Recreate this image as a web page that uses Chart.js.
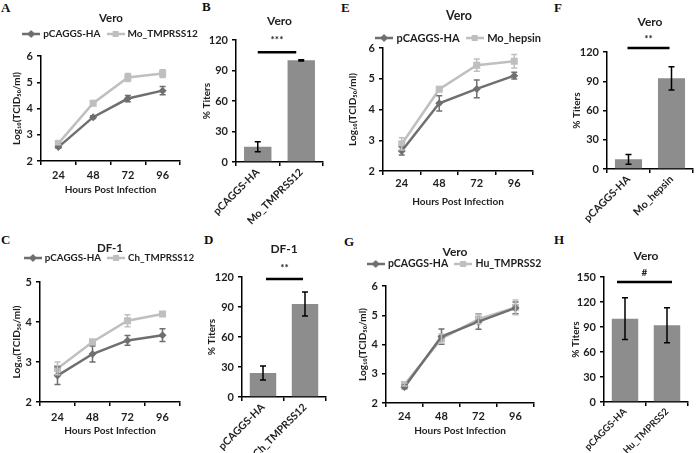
<!DOCTYPE html>
<html><head><meta charset="utf-8">
<script src="https://cdn.jsdelivr.net/npm/chart.js@4/dist/chart.umd.min.js"></script>
<style>
html,body{margin:0;padding:0;background:#fff;width:696px;height:453px;overflow:hidden;position:relative}
canvas{position:absolute}
.lt{position:absolute;font-family:'Liberation Serif','Times New Roman',serif;font-weight:bold;font-size:13px;line-height:1;color:#111}
</style></head><body>
<div class="lt" style="left:1px;top:1px">A</div>
<div class="lt" style="left:202px;top:0px">B</div>
<div class="lt" style="left:341px;top:1px">E</div>
<div class="lt" style="left:554px;top:1px">F</div>
<div class="lt" style="left:1px;top:233px">C</div>
<div class="lt" style="left:204px;top:233px">D</div>
<div class="lt" style="left:344px;top:235px">G</div>
<div class="lt" style="left:554px;top:233px">H</div>
<script>
// ---------- data ----------
const hours = ['24', '48', '72', '96'];
const A_pc = [2.53, 3.67, 4.38, 4.68];
const A_pcErr = [0.04, 0.05, 0.12, 0.16];
const A_mo = [2.67, 4.2, 5.18, 5.33];
const A_moErr = [0.05, 0.04, 0.15, 0.15];
const C_pc = [2.66, 3.2, 3.54, 3.67];
const C_pcErr = [0.22, 0.2, 0.12, 0.16];
const C_ch = [2.84, 3.5, 4.03, 4.2];
const C_chErr = [0.16, 0.07, 0.15, 0.03];
const E_pc = [2.65, 4.2, 4.67, 5.1];
const E_pcErr = [0.13, 0.25, 0.29, 0.11];
const E_mo = [2.88, 4.66, 5.44, 5.57];
const E_moErr = [0.2, 0.03, 0.2, 0.22];
const G_pc = [2.55, 4.27, 4.78, 5.25];
const G_pcErr = [0.06, 0.26, 0.26, 0.2];
const G_hu = [2.63, 4.2, 4.87, 5.27];
const G_huErr = [0.05, 0.16, 0.16, 0.25];
const B_labels = ['pCAGGS-HA', 'Mo_TMPRSS12'];
const B_vals = [15, 100];
const B_err = [5, 0.6];
const D_labels = ['pCAGGS-HA', 'Ch_TMPRSS12'];
const D_vals = [24, 93];
const D_err = [7, 12];
const F_labels = ['pCAGGS-HA', 'Mo_hepsin'];
const F_vals = [10, 93];
const F_err = [5, 12];
const H_labels = ['pCAGGS-HA', 'Hu_TMPRSS2'];
const H_vals = [100, 92];
const H_err = [25, 21];

// ---------- style ----------
const FONT = "Lato, sans-serif";
const TXT = '#1e1e1e';
const DARK = '#6f6f6f', LIGHT = '#bfbfbf', BAR = '#8d8d8d';

const errorBars = {
  id: 'errorBars',
  afterDatasetsDraw(chart) {
    const ctx = chart.ctx, ys = chart.scales.y;
    chart.data.datasets.forEach((ds, i) => {
      if (!ds.errors) return;
      const meta = chart.getDatasetMeta(i);
      ctx.save();
      ctx.strokeStyle = ds.errorColor; ctx.lineWidth = ds.errorWidth || 1.5;
      meta.data.forEach((el, j) => {
        const e = ds.errors[j]; if (!e) return;
        const v = ds.data[j], x = el.x;
        const y1 = ys.getPixelForValue(v + e), y2 = ys.getPixelForValue(v - e);
        const cw = ds.capWidth || 3;
        ctx.beginPath();
        ctx.moveTo(x, y1); ctx.lineTo(x, y2);
        ctx.moveTo(x - cw, y1); ctx.lineTo(x + cw, y1);
        ctx.moveTo(x - cw, y2); ctx.lineTo(x + cw, y2);
        ctx.stroke();
      });
      ctx.restore();
    });
  }
};
const sigPlugin = {
  id: 'sig',
  afterDraw(chart, args, o) {
    if (!o || !o.text) return;
    const xs = chart.scales.x, ys = chart.scales.y, ctx = chart.ctx;
    const x1 = xs.getPixelForValue(0) + (o.dx1 || 0), x2 = xs.getPixelForValue(1) + (o.dx2 || 0);
    const y = ys.getPixelForValue(o.y);
    ctx.save();
    ctx.strokeStyle = '#000'; ctx.lineWidth = 2.5;
    ctx.beginPath(); ctx.moveTo(x1, y); ctx.lineTo(x2, y); ctx.stroke();
    ctx.fillStyle = TXT; ctx.font = 'bold 10px ' + FONT; ctx.textAlign = 'center'; ctx.textBaseline = 'middle';
    ctx.fillText(o.text, (x1 + x2) / 2, ys.getPixelForValue(o.ty));
    ctx.restore();
  }
};

function mk(r) {
  const c = document.createElement('canvas');
  c.width = r.w; c.height = r.h; c.style.left = r.l + 'px'; c.style.top = r.t + 'px';
  document.body.appendChild(c); return c;
}
function legendIcon(color, style) {
  const c = document.createElement('canvas'); c.width = 18; c.height = 10;
  const g = c.getContext('2d');
  g.strokeStyle = color; g.lineWidth = 2.5;
  g.beginPath(); g.moveTo(0, 5); g.lineTo(18, 5); g.stroke();
  g.fillStyle = color;
  if (style === 'rectRot') { g.beginPath(); g.moveTo(9, 1); g.lineTo(13, 5); g.lineTo(9, 9); g.lineTo(5, 5); g.closePath(); g.fill(); }
  else g.fillRect(6, 2, 6, 6);
  return c;
}

function lineChart(p) {
  const a = p.area;
  const r = { l: p.cx - p.wh, t: p.top, w: 2 * p.wh, h: p.h };
  const c = mk(r);
  const LP = 8, LF = p.lf;
  const T = p.titleY - r.t - p.tf * 0.6;
  const legendTop = p.legendY - LP - LF / 2;
  const Bp = legendTop - (r.t + T + p.tf * 1.2);
  const natBottom = legendTop + LF + LP + 10;
  let maxH, spacer = 0;
  if (a.t < natBottom) maxH = a.t - legendTop; else spacer = a.t - natBottom;
  const rightW = r.l + r.w - a.r;
  const datasets = p.series.map(s => ({
    label: s.label, data: s.data, errors: s.err,
    borderColor: s.color, backgroundColor: s.color,
    pointBackgroundColor: s.color, pointBorderColor: s.color, pointBorderWidth: 0,
    pointStyle: s.style, pointRadius: s.style === 'rect' ? 5 : 4,
    borderWidth: 2.5, errorColor: s.color, capWidth: 3, icon: legendIcon(s.color, s.style)
  }));
  new Chart(c, {
    type: 'line',
    data: { labels: hours, datasets },
    options: {
      responsive: false, animation: false, devicePixelRatio: 1,
      layout: { padding: 0 },
      plugins: {
        tooltip: { enabled: false },
        title: { display: true, text: p.title, color: TXT, font: { family: FONT, size: p.tf, weight: 'bold', lineHeight: 1.2 }, padding: { top: T, bottom: Bp } },
        subtitle: { display: spacer >= 1, text: '', weight: 500, font: { size: 1, lineHeight: 1 }, padding: { top: Math.max(spacer - 1, 0), bottom: 0 } },
        legend: {
          display: true, maxHeight: maxH,
          labels: {
            usePointStyle: true, pointStyleWidth: 14, padding: LP, color: TXT,
            font: { family: FONT, size: LF, weight: 'bold' },
            generateLabels(ch) {
              return ch.data.datasets.map((ds, i) => ({ text: ds.label, pointStyle: ds.icon, fillStyle: ds.borderColor, strokeStyle: ds.borderColor, lineWidth: 0, hidden: false, datasetIndex: i, fontColor: TXT }));
            }
          }
        }
      },
      scales: {
        x: {
          offset: true,
          grid: { display: true, drawOnChartArea: false, offset: true, tickLength: 4, color: '#000', lineWidth: 1.5 },
          border: { color: '#000', width: 1.5 },
          ticks: { color: TXT, font: { family: FONT, size: 11, weight: 'bold' }, padding: p.xTickY - a.b - 4 - 6, maxRotation: 0 },
          title: { display: true, text: 'Hours Post Infection', color: TXT, font: { family: FONT, size: 10, weight: 'bold', lineHeight: 1.2 }, padding: { top: 0, bottom: r.t + r.h - p.xTitleY - 6 } },
          afterFit(s) { s.height = r.t + r.h - a.b; }
        },
        y: {
          min: p.ymin, max: p.ymax,
          ticks: { stepSize: 1, color: TXT, font: { family: FONT, size: 11, weight: 'bold' }, padding: 4 },
          grid: { drawOnChartArea: false, tickLength: 4, color: '#000', lineWidth: 1.5 },
          border: { color: '#000', width: 1.5 },
          title: { display: true, text: 'Log\u2081\u2080(TCID\u2085\u2080/ml)', color: TXT, font: { family: FONT, size: 10, weight: 'bold', lineHeight: 1.2 }, padding: { top: p.yTitleX - r.l - 6, bottom: 0 } },
          afterFit(s) { s.width = a.l - r.l; }
        },
        yRight: {
          position: 'right', display: true, min: 0, max: 1,
          grid: { display: false }, border: { display: false }, ticks: { display: false },
          afterFit(s) { s.width = rightW; }
        }
      }
    },
    plugins: [errorBars]
  });
}

function barChart(p) {
  const r = p.rect, a = p.area, c = mk(r);
  const T = p.titleY - r.t - 7.2;
  const Bp = a.t - (r.t + T + 14.4);
  new Chart(c, {
    type: 'bar',
    data: { labels: p.labels, datasets: [{ data: p.vals, errors: p.err, backgroundColor: BAR, barPercentage: 0.63, categoryPercentage: 1, errorColor: '#000', capWidth: 3 }] },
    options: {
      responsive: false, animation: false, devicePixelRatio: 1,
      layout: { padding: { left: 0, top: 0, bottom: 0, right: r.l + r.w - a.r } },
      plugins: {
        legend: { display: false }, tooltip: { enabled: false },
        title: { display: true, fullSize: false, text: p.title, color: TXT, font: { family: FONT, size: 12, weight: 'bold', lineHeight: 1.2 }, padding: { top: T, bottom: Bp } },
        sig: p.sig
      },
      scales: {
        x: {
          grid: { display: true, drawOnChartArea: false, offset: true, tickLength: 4, color: '#000', lineWidth: 1.5 },
          border: { color: '#000', width: 1.5 },
          ticks: { color: TXT, font: { family: FONT, size: p.xf || 10.5, weight: 'bold' }, minRotation: 45, maxRotation: 45, padding: 0, autoSkip: false },
          afterFit(s) { s.height = r.t + r.h - a.b; }
        },
        y: {
          min: 0, max: p.ymax,
          ticks: { stepSize: 30, color: TXT, font: { family: FONT, size: 11, weight: 'bold' }, padding: 4 },
          grid: { drawOnChartArea: false, tickLength: 4, color: '#000', lineWidth: 1.5 },
          border: { color: '#000', width: 1.5 },
          title: { display: true, text: '% Titers', color: TXT, font: { family: FONT, size: 10, weight: 'bold', lineHeight: 1.2 }, padding: { top: p.yTitleX - r.l - 6, bottom: 0 } },
          afterFit(s) { s.width = a.l - r.l; }
        }
      }
    },
    plugins: [errorBars, sigPlugin]
  });
}

lineChart({ cx: 111, wh: 106, top: 0, h: 205, area: { l: 41, r: 180, t: 56, b: 161 }, title: 'Vero', tf: 11.5, lf: 10, titleY: 18.5, legendY: 34, yTitleX: 17, xTickY: 175, xTitleY: 190, ymin: 2, ymax: 6,
  series: [{ label: 'pCAGGS-HA', data: A_pc, err: A_pcErr, color: DARK, style: 'rectRot' }, { label: 'Mo_TMPRSS12', data: A_mo, err: A_moErr, color: LIGHT, style: 'rect' }] });
barChart({ rect: { l: 190, t: 0, w: 150, h: 228 }, area: { l: 236, r: 323, t: 40, b: 162 }, title: 'Vero', titleY: 21, yTitleX: 207, ymax: 120, labels: B_labels, vals: B_vals, err: B_err,
  sig: { text: '***', y: 108, ty: 120, dx1: 0, dx2: -5 } });
lineChart({ cx: 459, wh: 110, top: 0, h: 215, area: { l: 383, r: 533, t: 48, b: 171 }, title: 'Vero', tf: 12.5, lf: 11, titleY: 15.5, legendY: 38, yTitleX: 353, xTickY: 183, xTitleY: 202, ymin: 2, ymax: 6,
  series: [{ label: 'pCAGGS-HA', data: E_pc, err: E_pcErr, color: DARK, style: 'rectRot' }, { label: 'Mo_hepsin', data: E_mo, err: E_moErr, color: LIGHT, style: 'rect' }] });
barChart({ rect: { l: 540, t: 0, w: 156, h: 232 }, area: { l: 607, r: 693, t: 52, b: 169 }, title: 'Vero', titleY: 22, yTitleX: 577, ymax: 120, labels: F_labels, vals: F_vals, err: F_err,
  sig: { text: '**', y: 124, ty: 134, dx1: -1, dx2: -2 } });
lineChart({ cx: 110, wh: 106, top: 220, h: 225, area: { l: 40, r: 180, t: 282, b: 402 }, title: 'DF-1', tf: 11.5, lf: 9.8, titleY: 248, legendY: 258, yTitleX: 17, xTickY: 417, xTitleY: 431, ymin: 2, ymax: 5,
  series: [{ label: 'pCAGGS-HA', data: C_pc, err: C_pcErr, color: DARK, style: 'rectRot' }, { label: 'Ch_TMPRSS12', data: C_ch, err: C_chErr, color: LIGHT, style: 'rect' }] });
barChart({ rect: { l: 190, t: 220, w: 150, h: 233 }, area: { l: 242, r: 326, t: 277, b: 397 }, title: 'DF-1', titleY: 249, yTitleX: 212, ymax: 120, labels: D_labels, vals: D_vals, err: D_err,
  sig: { text: '**', y: 118, ty: 129, dx1: 3, dx2: -2 } });
lineChart({ cx: 455, wh: 110, top: 220, h: 225, area: { l: 386, r: 534, t: 286, b: 403 }, title: 'Vero', tf: 12, lf: 10.5, titleY: 252, legendY: 264, yTitleX: 363, xTickY: 416, xTitleY: 431, ymin: 2, ymax: 6,
  series: [{ label: 'pCAGGS-HA', data: G_pc, err: G_pcErr, color: DARK, style: 'rectRot' }, { label: 'Hu_TMPRSS2', data: G_hu, err: G_huErr, color: LIGHT, style: 'rect' }] });
barChart({ rect: { l: 555, t: 220, w: 141, h: 233 }, area: { l: 604, r: 688, t: 277, b: 402 }, title: 'Vero', titleY: 256, yTitleX: 576, ymax: 150, xf: 9.5, labels: H_labels, vals: H_vals, err: H_err,
  sig: { text: '#', y: 144, ty: 155, dx1: -8, dx2: 5 } });
</script>
</body></html>
